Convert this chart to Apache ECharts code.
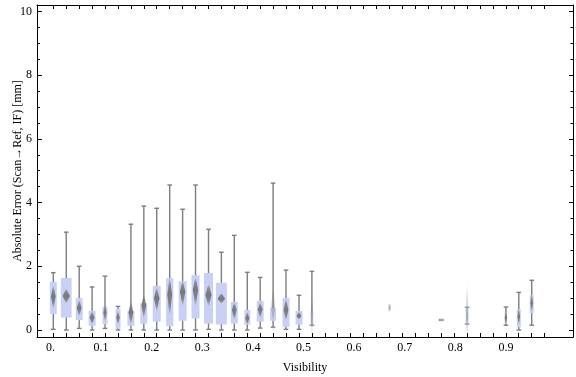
<!DOCTYPE html>
<html>
<head>
<meta charset="utf-8">
<script src="https://cdn.jsdelivr.net/npm/echarts@6/dist/echarts.min.js"></script>
<style>
html, body { margin: 0; padding: 0; background: #fff; }
#chart { width: 576px; height: 377px; }
</style>
</head>
<body>
<div id="chart"></div>
<script>
// box positions on the visibility axis
const visibility = [0.0055, 0.0311, 0.0567, 0.0822, 0.1077, 0.1334, 0.1589, 0.1844, 0.2099, 0.2356,
    0.2611, 0.2866, 0.3123, 0.3377, 0.3632, 0.3889, 0.4144, 0.4399, 0.4654, 0.4911,
    0.5166, 0.6700, 0.7721, 0.8233, 0.9000, 0.9255, 0.9510];
const whiskerLow = [0.02, 0.00, 0.05, 0.00, 0.05, 0.00, 0.00, 0.00, 0.00, 0.00,
    0.00, 0.00, 0.02, 0.00, 0.00, 0.00, 0.06, 0.09, 0.02, 0.02,
    0.15, null, 0.30, 0.19, 0.15, 0.00, 0.15];
const boxLow = [0.50, 0.39, 0.31, 0.13, 0.18, 0.04, 0.13, 0.20, 0.26, 0.12,
    0.29, 0.36, 0.20, 0.17, 0.20, 0.17, 0.26, 0.29, 0.10, 0.17,
    0.15, 0.61, 0.30, 0.19, 0.19, 0.09, 0.53];
const median = [1.05, 1.07, 0.69, 0.39, 0.54, 0.39, 0.56, 0.76, 1.00, 1.12,
    1.20, 1.26, 1.10, 0.98, 0.63, 0.37, 0.65, 0.70, 0.63, 0.44,
    0.50, 0.69, 0.31, 0.45, 0.38, 0.42, 0.84];
const boxHigh = [1.51, 1.63, 1.00, 0.60, 0.73, 0.66, 0.60, 0.85, 1.38, 1.63,
    1.53, 1.72, 1.79, 1.48, 0.88, 0.63, 0.91, 0.69, 1.00, 0.60,
    0.53, 0.80, 0.33, 0.71, 0.57, 0.66, 1.10];
const whiskerHigh = [1.80, 3.07, 2.00, 1.35, 1.69, 0.74, 3.32, 3.89, 3.82, 4.55,
    3.79, 4.55, 3.16, 2.44, 2.97, 1.81, 1.65, 4.61, 1.88, 1.09,
    1.84, null, 0.33, 0.71, 0.72, 1.18, 1.56];
// spread of the density diamond
const densityLow = [0.65, 0.82, 0.42, 0.17, 0.27, 0.17, 0.15, 0.36, 0.57, 0.41,
    0.73, 0.73, 0.73, 0.82, 0.31, 0.16, 0.36, 0.20, 0.28, 0.32,
    -0.30, 0.55, 0.31, -0.25, 0.12, 0.15, 0.55];
const densityHigh = [1.41, 1.31, 0.96, 0.60, 0.84, 0.60, 0.92, 1.15, 1.36, 1.67,
    1.57, 1.67, 1.47, 1.17, 0.89, 0.58, 0.88, 1.45, 1.00, 0.58,
    1.20, 0.85, 0.31, 1.57, 0.68, 0.70, 1.15];
// relative box width (share of one slot)
const relWidth = [0.54, 0.83, 0.54, 0.54, 0.39, 0.39, 0.54, 0.54, 0.62, 0.56,
    0.62, 0.62, 0.70, 0.85, 0.54, 0.46, 0.54, 0.46, 0.54, 0.54,
    0.23, 0.15, 0.23, 0.21, 0.19, 0.31, 0.31];
// 0 normal, 1 faint diamond, 2 faint diamond and box
const faintness = [0, 0, 0, 0, 0, 0, 0, 0, 0, 0,
    0, 0, 0, 0, 0, 0, 0, 1, 0, 0,
    2, 1, 0, 1, 0, 0, 0];

const xLabelValues = [0, 0.1, 0.2, 0.3, 0.4, 0.5, 0.6, 0.7, 0.8, 0.9];
const xLabelTexts = ['0.', '0.1', '0.2', '0.3', '0.4', '0.5', '0.6', '0.7', '0.8', '0.9'];
const yLabelValues = [0, 2, 4, 6, 8, 10];

const slotStep = 0.02555;
const slotTicks = [];
for (let k = 0; k <= 38; k++) slotTicks.push(+(0.0055 + k * slotStep).toFixed(4));
const yMinor = [];
for (let v = 0; v <= 10; v += 0.5) yMinor.push(v);

const FONT = "'Liberation Serif', 'Times New Roman', serif";
const LINE = '#000';

function renderItem(params, api) {
    const i = params.dataIndex;
    const x = api.value(0);
    const cx = api.coord([x, 0])[0];
    const py = v => api.coord([x, v])[1];
    const w = api.size([slotStep, 0])[0] * relWidth[i];
    const faint = faintness[i];
    const kids = [];
    const ws = { stroke: '#7d7d7d', lineWidth: 1.4 };

    if (whiskerLow[i] != null) {
        kids.push({ type: 'line', shape: { x1: cx, y1: py(whiskerLow[i]), x2: cx, y2: py(whiskerHigh[i]) }, style: ws });
        [whiskerLow[i], whiskerHigh[i]].forEach(v => {
            kids.push({ type: 'line', shape: { x1: cx - 2.3, y1: py(v), x2: cx + 2.3, y2: py(v) }, style: ws });
        });
    }
    const top = py(boxHigh[i]), bot = py(boxLow[i]);
    kids.push({
        type: 'rect',
        shape: { x: cx - w / 2, y: top, width: w, height: Math.max(bot - top, 1) },
        style: { fill: '#c9d0f6', opacity: faint === 2 ? 0.55 : 1 }
    });

    const dTop = py(densityHigh[i]), dBot = py(densityLow[i]), dMid = py(median[i]);
    if (dBot - dTop > 2) {
        const dw = Math.max(2.4, w * 0.68);
        const a = faint ? 0.4 : 1;
        const mid = Math.min(0.85, Math.max(0.15, (dMid - dTop) / (dBot - dTop)));
        const c = 'rgba(120,120,120,';
        kids.push({
            type: 'polygon',
            shape: { points: [[cx, dTop], [cx + dw / 2, dMid], [cx, dBot], [cx - dw / 2, dMid]] },
            style: {
                fill: new echarts.graphic.LinearGradient(0, 0, 0, 1, [
                    { offset: 0, color: c + '0)' },
                    { offset: mid * 0.45, color: c + (a * 0.8) + ')' },
                    { offset: mid, color: c + a + ')' },
                    { offset: mid + (1 - mid) * 0.55, color: c + (a * 0.8) + ')' },
                    { offset: 1, color: c + '0)' }
                ])
            }
        });
    }
    return { type: 'group', children: kids };
}

const chart = echarts.init(document.getElementById('chart'));

const xCommon = {
    type: 'value', min: -0.0267, max: 1.0326,
    axisLine: { onZero: false, lineStyle: { color: LINE, width: 1 } },
    axisTick: { inside: true, length: 4, customValues: slotTicks, lineStyle: { color: LINE } },
    splitLine: { show: false }
};
const yCommon = {
    type: 'value', min: -0.22, max: 10.2,
    splitLine: { show: false }
};

chart.setOption({
    animation: false,
    grid: { left: 37, right: 3, top: 5, bottom: 40, containLabel: false, outerBoundsMode: 'none' },
    xAxis: [
        Object.assign({}, xCommon, {
            position: 'bottom',
            name: 'Visibility', nameLocation: 'middle', nameGap: 25, nameMoveOverlap: false,
            nameTextStyle: { fontFamily: FONT, fontSize: 12, color: '#000' },
            axisLabel: {
                customValues: xLabelValues, margin: 5,
                fontFamily: FONT, fontSize: 12, color: '#000',
                formatter: v => xLabelTexts[xLabelValues.indexOf(+v.toFixed(1))]
            }
        }),
        Object.assign({}, xCommon, { position: 'top', axisLabel: { show: false } })
    ],
    yAxis: [
        Object.assign({}, yCommon, {
            position: 'left',
            name: 'Absolute Error (Scan\u2192Ref, IF) [mm]', nameLocation: 'middle', nameGap: 13, nameMoveOverlap: false,
            nameTextStyle: { fontFamily: FONT, fontSize: 12, color: '#000' },
            axisLine: { onZero: false, lineStyle: { color: LINE } },
            axisTick: { inside: true, length: 5, customValues: yLabelValues, lineStyle: { color: LINE } },
            axisLabel: { customValues: yLabelValues, margin: 5, fontFamily: FONT, fontSize: 12, color: '#000' }
        }),
        Object.assign({}, yCommon, {
            position: 'left',
            axisLine: { show: false, onZero: false },
            axisTick: { inside: true, length: 3, customValues: yMinor, lineStyle: { color: LINE } },
            axisLabel: { show: false }
        }),
        Object.assign({}, yCommon, {
            position: 'right',
            axisLine: { show: true, onZero: false, lineStyle: { color: LINE } },
            axisTick: { inside: true, length: 4, customValues: yLabelValues, lineStyle: { color: LINE } },
            axisLabel: { show: false }
        }),
        Object.assign({}, yCommon, {
            position: 'right',
            axisLine: { show: false, onZero: false },
            axisTick: { inside: true, length: 2.5, customValues: yMinor, lineStyle: { color: LINE } },
            axisLabel: { show: false }
        })
    ],
    series: [{
        type: 'custom',
        xAxisIndex: 0, yAxisIndex: 0,
        renderItem: renderItem,
        clip: false,
        data: visibility.map((x, i) => [x, median[i]])
    }]
});
</script>
</body>
</html>
